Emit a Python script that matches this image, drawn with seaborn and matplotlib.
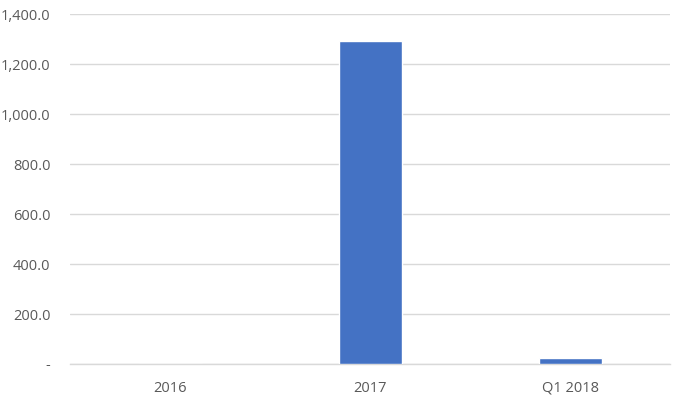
import matplotlib
matplotlib.use("Agg")
import matplotlib.pyplot as plt
import seaborn as sns
import pandas as pd
from matplotlib.ticker import FuncFormatter, MultipleLocator

categories = ["2016", "2017", "Q1 2018"]
values = [0.5, 1292.0, 25.0]

df = pd.DataFrame({"period": categories, "value": values})

sns.set_theme(style="white")
plt.rcParams['font.family'] = ['Open Sans', 'DejaVu Sans']

fig = plt.figure(figsize=(6.89, 4.05), dpi=100)
ax = fig.add_axes([70/689, 1-364/405, 600/689, 350/405])

sns.barplot(data=df, x="period", y="value", color="#4472C4", width=0.315,
            saturation=1, ax=ax, zorder=3)

ax.set_ylim(0, 1400)
ax.yaxis.set_major_locator(MultipleLocator(200))

def fmt(v, pos):
    if abs(v) < 1e-9:
        return "-"
    return f"{v:,.1f}"

ax.yaxis.set_major_formatter(FuncFormatter(fmt))
ax.grid(axis="y", color="#d9d9d9", linewidth=1, zorder=0)
ax.set_axisbelow(True)
for s in ["top", "right", "left"]:
    ax.spines[s].set_visible(False)
ax.spines["bottom"].set_color("#d9d9d9")
ax.spines["bottom"].set_linewidth(1)
ax.set_xlabel("")
ax.set_ylabel("")
ax.tick_params(axis="y", length=0, labelsize=10.5, colors="#595959", pad=14)
ax.tick_params(axis="x", length=0, labelsize=10.5, colors="#595959", pad=12)
for lbl in ax.get_xticklabels() + ax.get_yticklabels():
    lbl.set_fontweight("medium")

fig.savefig("out.png", dpi=100, facecolor="white")
